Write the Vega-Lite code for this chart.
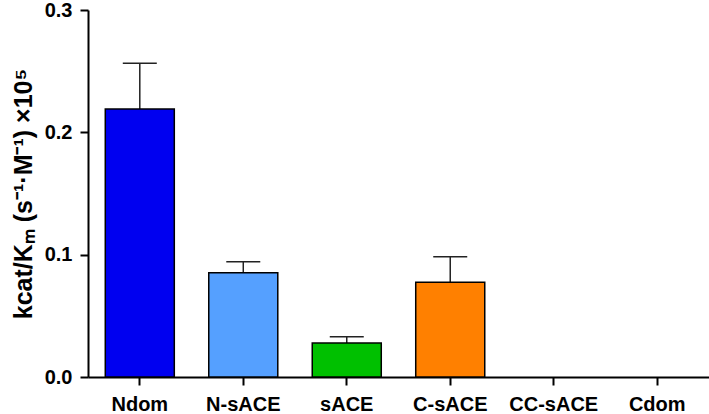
{
  "$schema": "https://vega.github.io/schema/vega-lite/v6.json",
  "width": 621,
  "height": 367,
  "autosize": {"type": "none"},
  "padding": {"left": 88, "top": 10, "right": 0, "bottom": 37},
  "background": "white",
  "config": {
    "view": {"stroke": null},
    "font": "Liberation Sans",
    "axis": {"grid": false, "domainColor": "black", "tickColor": "black", "labelColor": "black", "titleColor": "black", "domainWidth": 2, "tickWidth": 2, "tickSize": 8, "labelFont": "Liberation Sans", "labelFontWeight": "bold", "labelFontSize": 20, "titleFont": "Liberation Sans"}
  },
  "data": {
    "values": [
      {"cat": "Ndom", "value": 0.219, "upper": 0.2564},
      {"cat": "N-sACE", "value": 0.0853, "upper": 0.0943},
      {"cat": "sACE", "value": 0.0278, "upper": 0.033},
      {"cat": "C-sACE", "value": 0.0774, "upper": 0.0983},
      {"cat": "CC-sACE", "value": 0, "upper": null},
      {"cat": "Cdom", "value": 0, "upper": null}
    ]
  },
  "encoding": {
    "x": {
      "field": "cat", "type": "nominal", "sort": null,
      "scale": {"domain": ["Ndom", "N-sACE", "sACE", "C-sACE", "CC-sACE", "Cdom"], "paddingInner": 0.333, "paddingOuter": 0.167},
      "axis": {"title": null, "labelAngle": 0, "labelPadding": 9}
    }
  },
  "layer": [
    {
      "transform": [{"filter": "datum.upper != null"}],
      "mark": {"type": "rule", "stroke": "#222222", "strokeWidth": 1.5},
      "encoding": {
        "y": {"field": "value", "type": "quantitative"},
        "y2": {"field": "upper"}
      }
    },
    {
      "transform": [{"filter": "datum.upper != null"}],
      "mark": {"type": "tick", "color": "#222222", "size": 34, "thickness": 1.5, "opacity": 1},
      "encoding": {
        "y": {"field": "upper", "type": "quantitative"}
      }
    },
    {
      "transform": [{"filter": "datum.value > 0"}],
      "mark": {"type": "bar", "stroke": "black", "strokeWidth": 1.5},
      "encoding": {
        "y": {
          "field": "value", "type": "quantitative",
          "scale": {"domain": [0, 0.3], "nice": false},
          "axis": {"values": [0, 0.1, 0.2, 0.3], "format": ".1f", "labelPadding": 8, "title": "kcat/Kₘ (s⁻¹·M⁻¹) ×10⁵", "titleFontSize": 25, "titleFontWeight": "bold", "titlePadding": 8}
        },
        "color": {
          "field": "cat", "type": "nominal", "legend": null,
          "scale": {"domain": ["Ndom", "N-sACE", "sACE", "C-sACE"], "range": ["#0000f0", "#55a0ff", "#00c000", "#ff8000"]}
        }
      }
    }
  ]
}
